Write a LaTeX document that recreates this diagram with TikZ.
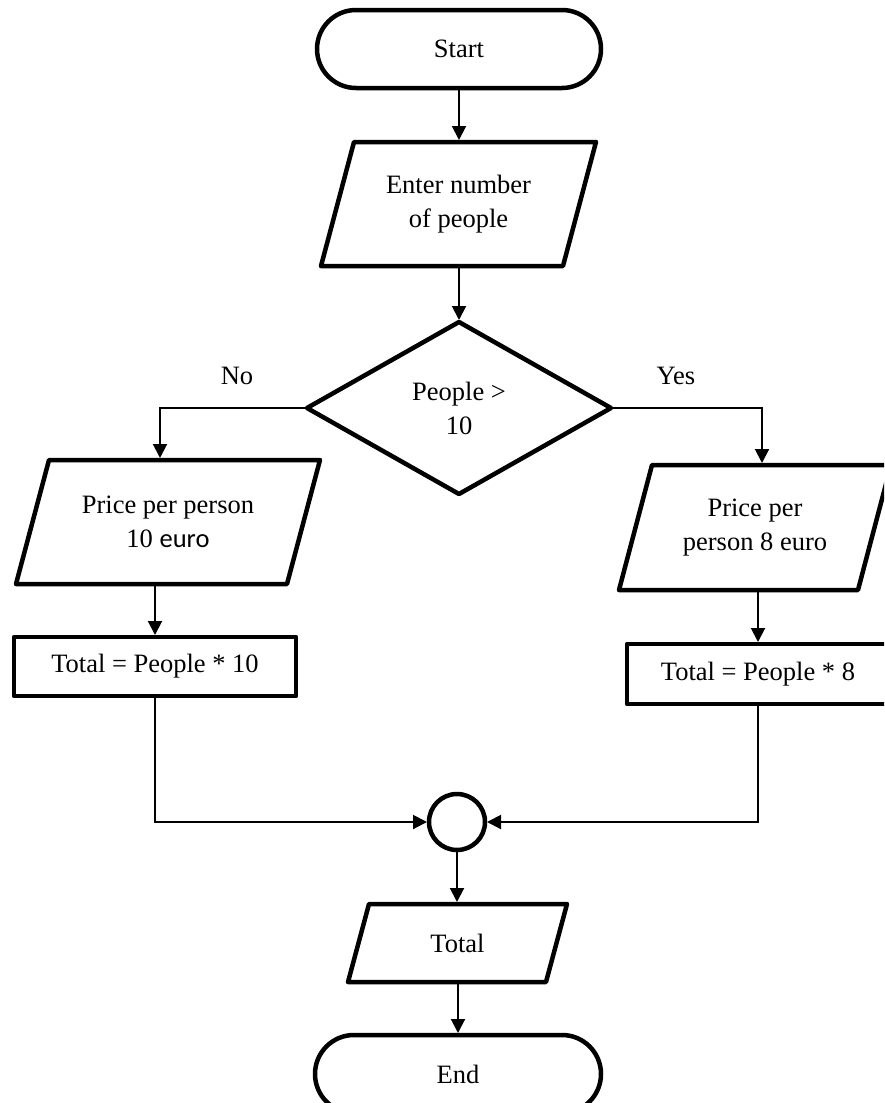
\documentclass[tikz,border=0pt]{standalone}
\usepackage{fontspec}
\setmainfont{Liberation Serif}
\newfontfamily\calibri{Carlito}
\usetikzlibrary{arrows.meta,shapes.geometric}
\newcommand\paral[2]{\draw[shp] ([xshift=#2]#1.north west) -- ([xshift=#2]#1.north east) -- ([xshift=-#2]#1.south east) -- ([xshift=-#2]#1.south west) -- cycle;}
\begin{document}
\begin{tikzpicture}[x=1pt,y=-1pt,
  every node/.style={font=\fontsize{26.5}{34}\selectfont, inner sep=0pt, outer sep=0pt, align=center},
  shp/.style={line width=4.5pt, line join=round},
  term/.style={shp, draw, rectangle, rounded corners=39pt, minimum width=284pt, minimum height=78pt},
  proc/.style={shp, draw, rectangle},
  dec/.style={shp, draw, diamond, minimum width=304pt, minimum height=172pt},
  joint/.style={shp, draw, circle, minimum size=56pt},
  conn/.style={line width=2pt, shorten >=2pt, shorten <=2pt},
  arr/.style={conn, -{Triangle[length=14pt,width=14pt]}}]
\useasboundingbox (0,0) rectangle (884,1103);
\fill[white] (0,0) rectangle (884,1103);
\clip (0,0) rectangle (884,1103);

\node[term] (start) at (459,49) {Start};
\node[minimum width=242pt, minimum height=124pt] (inp) at (458.5,204) {Enter number\\of people};
\paral{inp}{16.5pt}
\node[dec] (dec) at (459,408) {People >\\10};
\node (no) at (237,376) {No};
\node (yes) at (676,376) {Yes};
\node[minimum width=271pt, minimum height=124pt] (pL) at (168,522) {Price per person\\10 {\calibri euro}};
\paral{pL}{16.5pt}
\node[proc, minimum width=282pt, minimum height=59pt] (rL) at (155,666.5) {Total = People * 10};
\node[minimum width=239pt, minimum height=125pt] (pR) at (755,527.5) {Price per\\person 8 euro};
\paral{pR}{16.5pt}
\node[proc, minimum width=262pt, minimum height=60pt] (rR) at (758,674) {Total = People * 8};
\node[joint] (join) at (457,822) {};
\node[minimum width=198pt, minimum height=78pt] (out) at (457.5,943) {Total};
\paral{out}{10.5pt}
\node[term, minimum width=286pt] (end) at (458,1074) {End};

\draw[arr] (start.south) -- (start.south |- inp.north);
\draw[arr] (inp.south -| dec.north) -- (dec.north);
\draw[arr] (dec.west) -| ([xshift=-8pt]pL.north);
\draw[arr] (dec.east) -| ([xshift=7pt]pR.north);
\draw[arr] (pL.south -| rL.north) -- (rL.north);
\draw[arr] (pR.south -| rR.north) -- (rR.north);
\draw[arr] (rL.south) |- (join.west);
\draw[arr] (rR.south) |- (join.east);
\draw[arr] (join.south) -- (join.south |- out.north);
\draw[arr] (out.south -| end.north) -- (end.north);
\end{tikzpicture}
\end{document}
